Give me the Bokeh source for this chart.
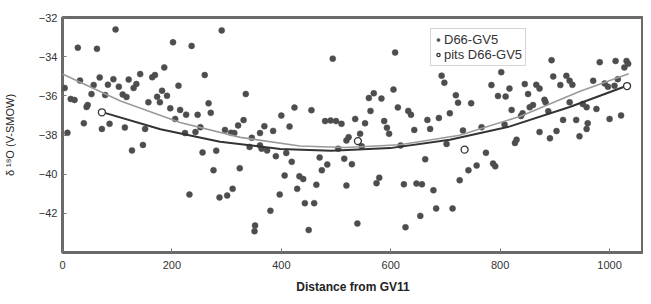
from bokeh.plotting import figure
from bokeh.models import FixedTicker, Legend, LegendItem, ColumnDataSource
from bokeh.embed import file_html
from bokeh.resources import INLINE

# D66-GV5 samples: distance from GV11 and delta 18O (per mil, V-SMOW)
dist = [4, 15, 22, 9, 28, 32, 39, 46, 44, 57, 53, 63, 68, 72, 78, 83, 86, 93, 97, 103,
        110, 117, 114, 121, 127, 135, 130, 142, 147, 151, 157, 164, 169, 173, 178, 186, 191, 182, 197, 202,
        206, 212, 215, 226, 236, 232, 224, 243, 247, 252, 256, 260, 267, 271, 291, 297, 308, 314, 281, 276,
        287, 301, 311, 324, 321, 331, 335, 342, 346, 361, 361, 364, 374, 369, 385, 380, 352, 351, 390, 397,
        400, 406, 409, 415, 419, 424, 429, 433, 440, 443, 460, 450, 455, 464, 470, 474, 484, 480, 490, 500,
        510, 494, 504, 515, 519, 519, 523, 529, 535, 539, 544, 547, 553, 560, 569, 563, 583, 574, 579, 588,
        593, 597, 605, 608, 613, 618, 624, 627, 632, 637, 643, 647, 657, 654, 663, 667, 672, 678, 683, 688,
        693, 698, 702, 708, 713, 719, 723, 726, 732, 742, 747, 757, 766, 774, 784, 787, 791, 802, 796, 810,
        817, 808, 821, 838, 841, 827, 830, 845, 851, 860, 854, 866, 872, 881, 883, 872, 888, 891, 894, 897,
        903, 910, 915, 921, 927, 932, 927, 939, 945, 951, 958, 960, 958, 970, 976, 982, 991, 997, 1009, 1015,
        1000, 1021, 1011, 1031, 1034, 1027]
d18o = [-35.60, -36.16, -36.21, -37.89, -33.54, -35.22, -37.40, -36.47, -36.57, -35.45,
        -35.91, -33.60, -35.06, -37.69, -35.96, -35.43, -37.43, -35.15, -32.61, -35.53,
        -35.93, -36.06, -37.62, -35.17, -38.79, -35.40, -35.60, -34.89, -38.51, -37.69,
        -36.33, -35.05, -34.94, -36.05, -36.33, -34.55, -36.00, -35.74, -36.64, -33.27,
        -37.18, -35.48, -36.72, -36.96, -33.45, -41.04, -37.90, -37.85, -36.97, -37.60,
        -38.89, -34.94, -36.38, -36.87, -32.66, -37.74, -37.89, -37.90, -38.80, -39.80,
        -41.19, -41.09, -40.75, -39.70, -37.51, -37.24, -35.91, -38.61, -38.14, -37.90,
        -38.53, -38.70, -38.79, -37.55, -37.79, -41.87, -42.62, -42.91, -39.08, -41.04,
        -37.01, -40.07, -38.92, -37.57, -39.37, -36.60, -40.75, -40.11, -40.25, -41.48,
        -41.48, -42.85, -36.73, -40.54, -39.15, -39.80, -39.51, -37.29, -37.26, -37.29,
        -37.43, -34.10, -38.70, -39.21, -38.28, -40.58, -38.11, -39.49, -37.18, -42.52,
        -37.94, -38.58, -37.40, -36.11, -35.87, -36.77, -36.14, -40.46, -40.18, -37.29,
        -37.63, -37.94, -35.68, -33.79, -36.59, -38.53, -40.52, -42.71, -36.77, -36.97,
        -37.74, -40.48, -40.52, -42.13, -39.24, -37.23, -37.69, -40.82, -41.75, -37.13,
        -34.97, -35.33, -38.46, -36.89, -41.75, -35.97, -36.35, -40.31, -37.77, -39.80,
        -36.38, -39.56, -37.60, -38.91, -35.45, -39.46, -39.60, -34.79, -36.01, -36.04,
        -35.63, -37.46, -36.72, -37.03, -36.89, -38.41, -38.24, -35.40, -35.91, -36.47,
        -36.58, -35.44, -35.63, -36.20, -36.33, -37.85, -36.79, -38.17, -34.18, -35.01,
        -37.80, -35.45, -37.23, -34.98, -35.23, -35.44, -36.33, -37.23, -38.07, -36.42,
        -36.58, -37.40, -37.69, -35.23, -36.67, -34.28, -35.37, -35.54, -35.49, -35.15,
        -37.18, -37.00, -34.22, -34.22, -34.36, -34.55]

# pits D66-GV5
pit_dist = [72, 540, 735, 1032]
pit_d18o = [-36.84, -38.31, -38.75, -35.50]

# trend curves
fit_all_x = [0, 106, 215, 325, 434, 517, 617, 726, 836, 945, 1035]
fit_all_y = [-34.89, -36.26, -37.36, -38.12, -38.56, -38.64, -38.50, -38.01, -37.05, -35.78, -34.87]
fit_pits_x = [71, 179, 288, 398, 491, 599, 708, 818, 927, 1033]
fit_pits_y = [-36.82, -37.71, -38.34, -38.71, -38.80, -38.67, -38.24, -37.56, -36.57, -35.47]

x_ticks = [0, 200, 400, 600, 800, 1000]
y_ticks = [-42, -40, -38, -36, -34, -32]

FONT = "Liberation Sans"

p = figure(width=643, height=296, x_range=(0, 1062), y_range=(-44, -32),
           output_backend="svg", toolbar_location=None,
           min_border_top=17, min_border_right=0, min_border_left=62, min_border_bottom=0)
p.grid.visible = False
p.background_fill_color = "white"
p.border_fill_color = "white"
p.outline_line_color = "#6a6a6a"
p.outline_line_width = 3

p.xaxis.ticker = FixedTicker(ticks=x_ticks)
p.yaxis.ticker = FixedTicker(ticks=y_ticks)
for ax in (p.xaxis[0], p.yaxis[0]):
    ax.axis_line_color = None
    ax.major_tick_in = 4
    ax.major_tick_out = 0
    ax.minor_tick_line_color = None
    ax.major_tick_line_color = "#777777"
    ax.major_label_text_font = FONT
    ax.major_label_text_font_size = "11px"
    ax.major_label_text_color = "#333333"
    ax.axis_label_text_font = FONT
    ax.axis_label_text_color = "#222222"

p.xaxis.axis_label = "Distance from GV11"
p.xaxis.axis_label_text_font_size = "12px"
p.xaxis.axis_label_text_font_style = "bold"
p.xaxis.major_label_standoff = 8
p.xaxis.axis_label_standoff = 8

p.yaxis.axis_label = "δ ¹⁸O (V-SMOW)"
p.yaxis.axis_label_text_font_size = "11px"
p.yaxis.axis_label_text_font_style = "normal"
p.yaxis.major_label_standoff = 5
p.yaxis.axis_label_standoff = 20

src = ColumnDataSource(dict(x=dist, y=d18o))
pits = ColumnDataSource(dict(x=pit_dist, y=pit_d18o))

r_pts = p.scatter("x", "y", source=src, marker="circle", size=6,
                  fill_color="#4d4d4d", line_color="#4d4d4d", line_alpha=0.5)
p.line(fit_all_x, fit_all_y, line_color="#9a9a9a", line_width=1.6)
p.line(fit_pits_x, fit_pits_y, line_color="#333333", line_width=2)
r_pits = p.scatter("x", "y", source=pits, marker="circle", size=7,
                   fill_color="white", line_color="#333333", line_width=1.3)

legend = Legend(items=[LegendItem(label="D66-GV5", renderers=[r_pts]),
                       LegendItem(label="pits D66-GV5", renderers=[r_pits])],
                location=(368, 186))
legend.label_text_font = FONT
legend.label_text_font_size = "13px"
legend.label_text_color = "#333333"
legend.label_height = 13
legend.glyph_height = 13
legend.glyph_width = 8
legend.label_standoff = 2
legend.spacing = 0
legend.padding = 3
legend.margin = 0
legend.border_line_color = "#aaaaaa"
legend.border_line_width = 1
legend.background_fill_alpha = 1
p.add_layout(legend)

open("out.html", "w").write(file_html(p, INLINE))
